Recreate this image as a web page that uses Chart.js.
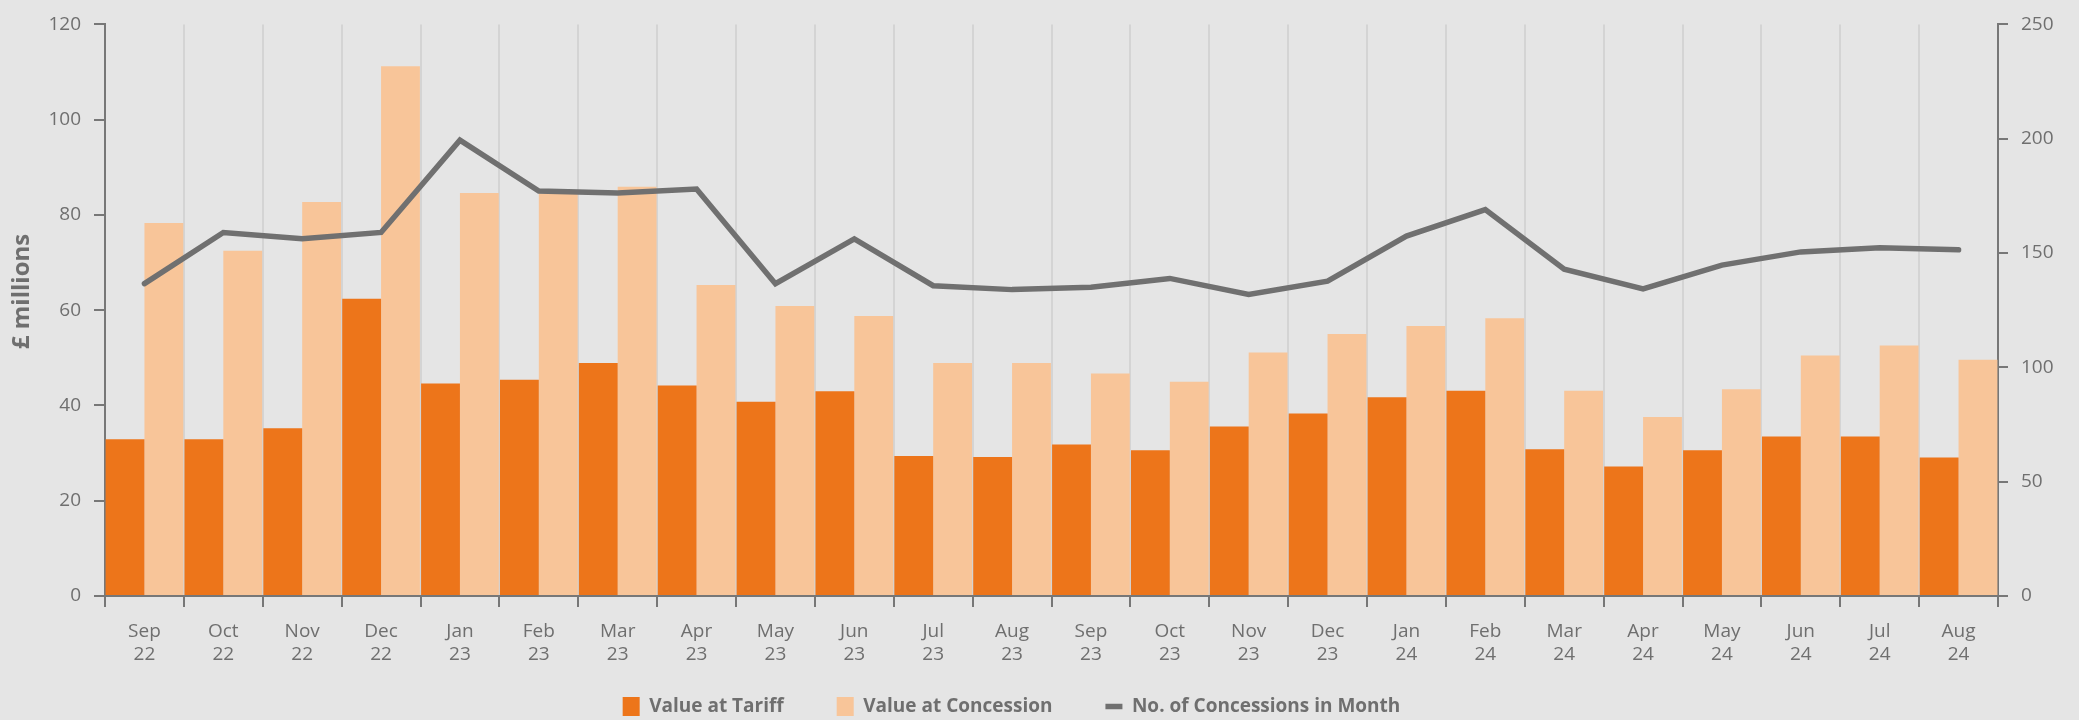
<!DOCTYPE html>
<html><head><meta charset="utf-8">
<script src="https://cdn.jsdelivr.net/npm/chart.js@4/dist/chart.umd.min.js"></script>
<style>html,body{margin:0;padding:0;background:#e5e5e5;overflow:hidden}</style>
</head><body>
<canvas id="c" width="2079" height="720" style="display:block;width:2079px;height:720px"></canvas>
<script>
const monthLabels = [['Sep','22'],['Oct','22'],['Nov','22'],['Dec','22'],['Jan','23'],['Feb','23'],['Mar','23'],['Apr','23'],['May','23'],['Jun','23'],['Jul','23'],['Aug','23'],['Sep','23'],['Oct','23'],['Nov','23'],['Dec','23'],['Jan','24'],['Feb','24'],['Mar','24'],['Apr','24'],['May','24'],['Jun','24'],['Jul','24'],['Aug','24']];
const valueAtTariff = [32.9,32.9,35.2,62.4,44.6,45.4,48.9,44.2,40.8,43.0,29.4,29.2,31.8,30.6,35.6,38.3,41.7,43.1,30.8,27.2,30.6,33.5,33.5,29.1];
const valueAtConcession = [78.3,72.5,82.7,111.2,84.6,84.5,85.9,65.3,60.9,58.8,48.9,48.9,46.7,45.0,51.1,55.0,56.7,58.3,43.1,37.6,43.4,50.5,52.6,49.6];
const concessionsCount = [136.6,159.0,156.2,159.0,199.4,177.1,176.3,178.0,136.6,156.2,135.7,134.0,135.0,138.9,131.9,137.7,157.4,169.0,142.9,134.3,144.7,150.5,152.3,151.4];
const leftTicks = [0,20,40,60,80,100,120];
const rightTicks = [0,50,100,150,200,250];

const TXT = '#6f6f6f', AX = '#777777';
const FONT = "'Open Sans', sans-serif";

const legendTweak = {
  id: 'legendTweak',
  beforeInit(chart) {
    const lg = chart.legend;
    const orig = lg.fit;
    lg.fit = function () { orig.call(this); this.height = 52; };
  },
  afterLayout(chart) {
    const lg = chart.legend;
    lg.left -= 28; lg.right -= 28;
    lg.top -= 24; lg.height = lg.bottom - lg.top;
  }
};

new Chart(document.getElementById('c'), {
  data: {
    labels: monthLabels,
    datasets: [
      { type: 'bar', label: 'Value at Tariff', data: valueAtTariff, backgroundColor: '#ed751a', yAxisID: 'y', categoryPercentage: 0.985, barPercentage: 1, order: 1 },
      { type: 'bar', label: 'Value at Concession', data: valueAtConcession, backgroundColor: '#f8c599', yAxisID: 'y', categoryPercentage: 0.985, barPercentage: 1, order: 1 },
      { type: 'line', label: 'No. of Concessions in Month', data: concessionsCount, borderColor: '#707070', backgroundColor: '#707070', borderWidth: 5.5, pointRadius: 0, tension: 0, borderCapStyle: 'round', borderJoinStyle: 'miter', yAxisID: 'y1', order: -1 }
    ]
  },
  options: {
    responsive: false, animation: false, maintainAspectRatio: false,
    layout: { padding: { top: 23, left: 0, right: 0, bottom: 0 } },
    plugins: {
      tooltip: { enabled: false },
      legend: {
        position: 'bottom',
        labels: {
          sort: (a, b) => a.datasetIndex - b.datasetIndex,
          usePointStyle: true, pointStyleWidth: 17,
          generateLabels(chart) {
            const items = Chart.defaults.plugins.legend.labels.generateLabels(chart);
            items.forEach(it => { it.pointStyle = it.datasetIndex === 2 ? 'line' : 'rect'; if (it.datasetIndex !== 2) it.lineWidth = 0; });
            return items;
          },
          color: TXT, boxWidth: 17, boxHeight: 20, padding: 53,
          font: { family: "'Liberation Sans Narrow', 'Open Sans', sans-serif", size: 19, weight: 'bold' }
        }
      }
    },
    scales: {
      x: {
        offset: true,
        grid: { offset: true, color: '#d4d4d4', lineWidth: 2, tickColor: AX, tickWidth: 2, tickLength: 11 },
        border: { color: AX, width: 2 },
        ticks: { color: TXT, font: { family: FONT, size: 19, lineHeight: 1.2 }, padding: 13, maxRotation: 0, autoSkip: false },
        afterFit(s) { s.height = 72; }
      },
      y: {
        position: 'left', min: 0, max: 120,
        afterBuildTicks(s) { s.ticks = leftTicks.map(v => ({ value: v })); },
        grid: { drawOnChartArea: false, color: AX, lineWidth: 2, tickLength: 11 },
        border: { color: AX, width: 2 },
        ticks: { color: TXT, font: { family: FONT, size: 19 }, padding: 13 },
        title: { display: true, text: '      £ millions', color: TXT, font: { family: FONT, size: 24, weight: 'bold' }, padding: { top: 8, bottom: 0 } },
        afterFit(s) { s.width = 105; }
      },
      y1: {
        position: 'right', min: 0, max: 250,
        afterBuildTicks(s) { s.ticks = rightTicks.map(v => ({ value: v })); },
        grid: { drawOnChartArea: false, color: AX, lineWidth: 2, tickLength: 10 },
        border: { color: AX, width: 2 },
        ticks: { color: TXT, font: { family: FONT, size: 19 }, padding: 13 },
        afterFit(s) { s.width = 81; }
      }
    }
  },
  plugins: [legendTweak]
});
</script>
</body></html>
